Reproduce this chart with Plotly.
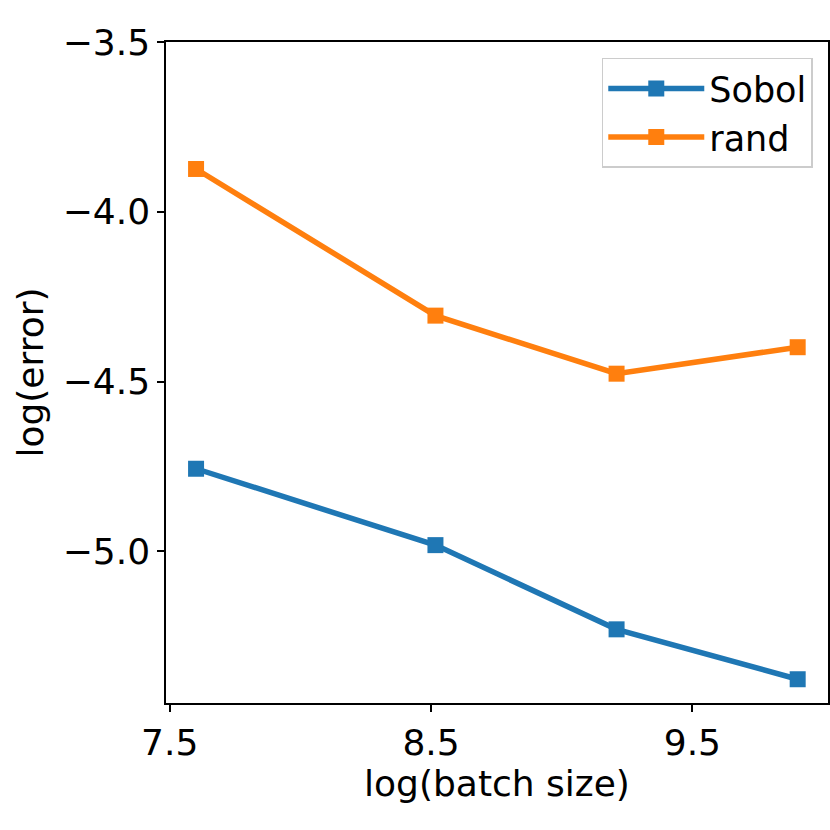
import plotly.graph_objects as go

# log(batch size) for batch sizes 2000, 5000, 10000, 20000
log_batch = [7.601, 8.517, 9.210, 9.903]
sobol_err = [-4.757, -4.982, -5.230, -5.377]
rand_err = [-3.874, -4.306, -4.477, -4.399]
y_ticks = [-5.0, -4.5, -4.0, -3.5]
x_ticks = [7.5, 8.5, 9.5]

blue = '#1f77b4'
orange = '#ff7f0e'

fig = go.Figure()
fig.add_trace(go.Scatter(x=log_batch, y=sobol_err, name='Sobol', mode='lines+markers',
                         line=dict(color=blue, width=5.5),
                         marker=dict(symbol='square', size=16, color=blue)))
fig.add_trace(go.Scatter(x=log_batch, y=rand_err, name='rand', mode='lines+markers',
                         line=dict(color=orange, width=5.5),
                         marker=dict(symbol='square', size=16, color=orange)))

axis_style = dict(showgrid=False, zeroline=False, showline=True, linecolor='black',
                  linewidth=1.5, mirror=True, ticks='outside', ticklen=7, tickwidth=1.5,
                  tickcolor='black', tickfont=dict(size=36, color='black'), automargin=False)

fig.update_xaxes(range=[7.486, 10.019], tickvals=x_ticks, tickformat='.1f',
                 title=dict(text='log(batch size)', font=dict(size=36, color='black'), standoff=0),
                 **axis_style)
fig.update_yaxes(range=[-5.447, -3.5], tickvals=y_ticks, tickformat='.1f',
                 title=dict(text='log(error)', font=dict(size=36, color='black'), standoff=8),
                 **axis_style)

fig.update_layout(width=830, height=830,
                  margin=dict(l=166, r=2, t=42, b=127),
                  plot_bgcolor='white', paper_bgcolor='white',
                  font=dict(family='DejaVu Sans', size=36, color='black'),
                  legend=dict(x=0.977, y=0.976, xanchor='right', yanchor='top',
                              bgcolor='rgba(255,255,255,0.8)', bordercolor='#cccccc',
                              borderwidth=1.5, font=dict(size=35), itemwidth=96))

# drop the default body margin so the figure sits at the page corner
fig.write_html("out.html", config={'displayModeBar': False},
               post_script="document.body.style.margin='0';")
